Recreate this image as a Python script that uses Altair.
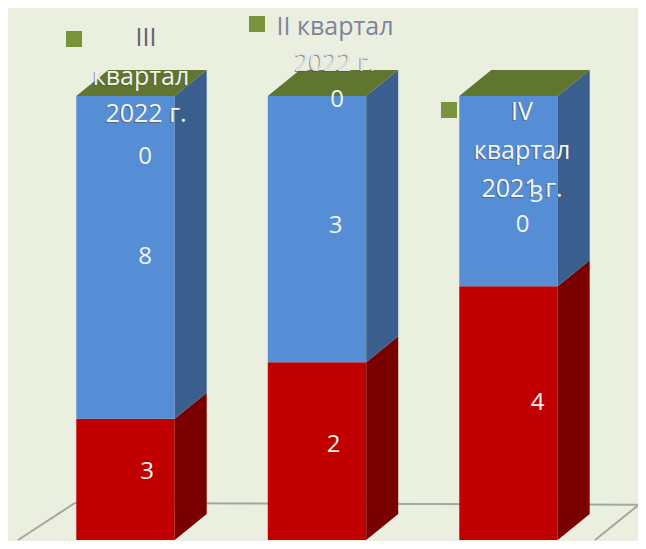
import altair as alt
import pandas as pd

# ---- data ----
categories = ["III квартал 2022 г.", "II квартал 2022 г.", "IV квартал 2021 г."]
series_red = [3, 2, 4]
series_blue = [8, 3, 3]
series_olive = [0, 0, 0]

floor_back_x = [-0.264, 2.68]
floor_back_y = [0.0833, 0.0793]
floor_left_x = [-0.264, -0.561]
floor_left_y = [0.0833, -0.0]
floor_right_x = [2.68, 2.452]
floor_right_y = [0.0793, 0.0]

# ---- geometry / style ----
W, H = 630, 533
X_DOM = [-0.6136, 2.6762]
Y_DOM = [-0.0023, 1.198]
HALF, DX, DY = 0.257, 0.167, 0.0586
BG, BLUE, BLUE_S = "#EBEFDF", "#558ED5", "#3A5F8F"
RED, RED_S, OLIVE_T, OLIVE_M = "#C00000", "#7A0000", "#5F7530", "#77933C"
FONT = "Open Sans"
FS = 25
LS = 24

xs = alt.Scale(domain=X_DOM, nice=False, zero=False)
ys = alt.Scale(domain=Y_DOM, nice=False, zero=False)
X = lambda f: alt.X(f, type="quantitative", scale=xs, axis=None)
Y = lambda f: alt.Y(f, type="quantitative", scale=ys, axis=None)

front, side, top = [], [], []
labels = []
for i, cat in enumerate(categories):
    total = series_red[i] + series_blue[i] + series_olive[i]
    red = series_red[i] / total
    l, r = i - HALF, i + HALF
    for col, a, b in ((RED, 0, red), (BLUE, red, 1)):
        front.append(dict(x=l, x2=r, y=a, y2=b, c=col))
    for name, col, a, b in (("r", RED_S, 0, red), ("b", BLUE_S, red, 1)):
        g = f"{i}{name}"
        side.append(dict(g=g, x=r, y=a, y2=b, c=col))
        side.append(dict(g=g, x=r + DX, y=a + DY, y2=b + DY, c=col))
    g = f"{i}t"
    for x, y, y2 in ((l, 1, 1), (l + DX, 1 + DY, 1), (r, 1 + DY, 1), (r + DX, 1 + DY, 1 + DY)):
        top.append(dict(g=g, x=x, y=y, y2=y2, c=OLIVE_T))
    labels.append(dict(i=i, t=str(series_red[i]), m=red / 2))
    labels.append(dict(i=i, t=str(series_blue[i]), m=(1 + red) / 2))
    labels.append(dict(i=i, t=str(series_olive[i]), m=1))

label_dx = [21.5, 19.5, 19.5, 16.5, 18.5, 20, 29, 28, 14]
label_dy = [-7, 0, 61, -6, -3, 4, -10, 4, 129]

col = alt.Color("c:N", scale=None)


def floor(xv, yv):
    return (
        alt.Chart(pd.DataFrame({"x": xv, "y": yv}))
        .mark_line(color="#A3A89B", strokeWidth=2, clip=True)
        .encode(x=X("x"), y=Y("y"))
    )


layers = [floor(floor_back_x, floor_back_y), floor(floor_left_x, floor_left_y), floor(floor_right_x, floor_right_y)]

# legend squares sit behind the bars
legend_marks = pd.DataFrame({"px": [66, 249, 441], "py": [31, 16, 102]})
for px, py in zip(legend_marks.px, legend_marks.py):
    layers.append(
        alt.Chart(pd.DataFrame({"a": [0]}))
        .mark_square(size=256, color=OLIVE_M, opacity=1, strokeWidth=0)
        .encode(x=alt.value(int(px)), y=alt.value(int(py)))
    )

layers.append(
    alt.Chart(pd.DataFrame(front)).mark_rect().encode(x=X("x"), x2="x2", y=Y("y"), y2="y2", color=col)
)
layers.append(
    alt.Chart(pd.DataFrame(side)).mark_area(orient="vertical").encode(
        x=X("x"), y=Y("y"), y2="y2", color=col, detail="g:N"
    )
)
layers.append(
    alt.Chart(pd.DataFrame(top)).mark_area(orient="vertical").encode(
        x=X("x"), y=Y("y"), y2="y2", color=col, detail="g:N"
    )
)

# value labels
for row, dx, dy in zip(labels, label_dx, label_dy):
    layers.append(
        alt.Chart(pd.DataFrame([row]))
        .mark_text(font=FONT, fontSize=LS, color="#F3F3EE", dx=dx, dy=dy, baseline="middle", align="center")
        .encode(x=X("i"), y=Y("m"), text="t:N")
    )

# legend text, wrapped as in the picture
legend_text = [
    ("III", 146, 38, "#66626E", 0),
    ("квартал", 141, 77, "#F3F3EE", 1),
    ("2022 г.", 146, 114, "#F3F3EE", 1),
    ("II квартал", 335, 27, "#7F849C", 0),
    ("2022 г.", 335, 63, "#E4E6E4", 1),
    ("IV", 522, 112, "#F3F3EE", 1),
    ("квартал", 522, 151, "#F3F3EE", 1),
    ("2021 г.", 522, 189, "#F3F3EE", 1),
]
for t, px, py, c, shadow in legend_text:
    base = alt.Chart(pd.DataFrame({"t": [t]}))
    enc = dict(x=alt.value(px - 8), y=alt.value(py - 8), text="t:N")
    if shadow:
        layers.append(
            base.mark_text(font=FONT, fontSize=FS, color="#4A4F60", opacity=0.6, dx=-1, dy=1,
                           baseline="middle", align="center").encode(**enc)
        )
    layers.append(
        base.mark_text(font=FONT, fontSize=FS, color=c, baseline="middle", align="center").encode(**enc)
    )

chart = (
    alt.layer(*layers)
    .properties(width=W, height=H, background=BG, padding=0, autosize=alt.AutoSizeParams(type="none"))
    .configure_view(stroke=None, fill=BG)
)
chart.save("out.html", embed_options={"renderer": "svg", "actions": False})
